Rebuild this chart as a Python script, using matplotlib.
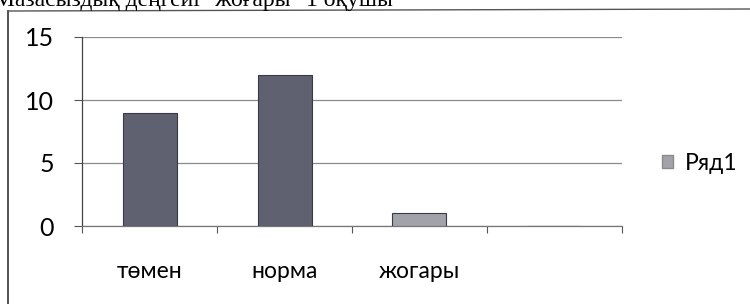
import matplotlib.pyplot as plt
from matplotlib.lines import Line2D
from matplotlib.patches import Patch

categories = ['төмен', 'норма', 'жогары', '']
values = [9, 12, 1, 0]
series_name = 'Ряд1'
y_ticks = [0, 5, 10, 15]
caption = 'Мазасыздық деңгейі "жоғары" 1 оқушы'

W, H = 750, 304


def main():
    plt.rcParams['font.family'] = ['Lato', 'DejaVu Sans']
    fig = plt.figure(figsize=(W / 100, H / 100), dpi=100)
    ax = fig.add_axes([82 / W, 1 - 226 / H, (622 - 82) / W, (226 - 37) / H])

    x = list(range(len(categories)))
    colors = ['#5f6170', '#5f6170', '#a2a2aa', '#a2a2aa']
    ax.bar(x, values, width=0.4, color=colors, edgecolor='#3a3a42', linewidth=0.8, zorder=3)

    ax.set_xlim(-0.5, len(categories) - 0.5)
    ax.set_ylim(0, 15)
    ax.set_yticks(y_ticks)
    ax.set_yticklabels([str(v) for v in y_ticks], fontsize=18)
    ax.yaxis.grid(True, color='#8a8a8a', linewidth=0.9, zorder=0)
    ax.tick_params(axis='y', length=6, width=0.8, color='#555555', pad=14)

    # category labels centred in each slot, tick marks on the boundaries
    ax.set_xticks([i - 0.5 for i in range(len(categories) + 1)])
    ax.set_xticklabels([])
    ax.set_xticks(x, minor=True)
    ax.set_xticklabels(categories, minor=True, fontsize=16.5)
    ax.tick_params(axis='x', which='major', length=5, width=0.8, color='#555555')
    ax.tick_params(axis='x', which='minor', length=0, pad=25)

    for side in ['top', 'right']:
        ax.spines[side].set_visible(False)
    ax.spines['left'].set_color('#444444')
    ax.spines['bottom'].set_color('#777777')
    ax.spines['left'].set_linewidth(0.9)
    ax.spines['bottom'].set_linewidth(0.9)

    ax.legend([Patch(facecolor='#a2a2aa', edgecolor='#8a8a8a')], [series_name],
              loc='center left', bbox_to_anchor=(662 / W, 1 - 163 / H),
              bbox_transform=fig.transFigure, frameon=False, fontsize=16.5,
              borderpad=0, borderaxespad=0,
              handlelength=0.5, handleheight=0.5, handletextpad=0.5)

    # chart frame (left and top edges)
    fig.add_artist(Line2D([8 / W, 8 / W], [0, 1 - 11 / H], transform=fig.transFigure,
                          color='#333333', linewidth=1.2))
    fig.add_artist(Line2D([8 / W, 1], [1 - 11 / H, 1 - 9 / H], transform=fig.transFigure,
                          color='#555555', linewidth=1.0))

    # clipped caption of the scanned page
    fig.text(-6 / W, 1 - 6 / H, caption, fontsize=17, family='Liberation Serif',
             va='baseline', ha='left')

    fig.savefig('out.png', dpi=100)


if __name__ == "__main__":
    main()
